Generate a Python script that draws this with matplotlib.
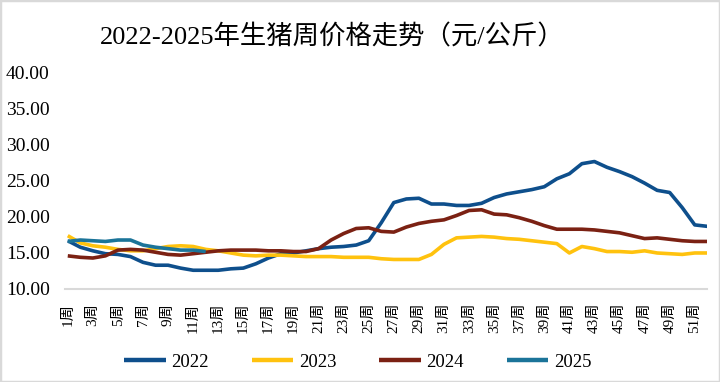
import matplotlib
matplotlib.use("Agg")
import matplotlib.pyplot as plt
from matplotlib.patches import Rectangle
from matplotlib.ticker import FormatStrFormatter

weeks = list(range(1, 53))
tick_weeks = list(range(1, 52, 2))
tick_labels = [f"{w}周" for w in tick_weeks]

y2022 = [16.7, 15.8, 15.3, 14.9, 14.8, 14.5, 13.7, 13.3, 13.3, 12.9, 12.6, 12.6,
         12.6, 12.8, 12.9, 13.5, 14.3, 14.9, 15.0, 15.3, 15.6, 15.8, 15.9, 16.1,
         16.7, 19.2, 22.0, 22.5, 22.6, 21.8, 21.8, 21.6, 21.6, 21.9, 22.7, 23.2,
         23.5, 23.8, 24.2, 25.3, 26.0, 27.4, 27.7, 26.9, 26.3, 25.6, 24.7, 23.7,
         23.4, 21.3, 18.9, 18.7]
y2023 = [17.4, 16.4, 16.0, 15.8, 15.5, 15.3, 15.3, 15.6, 15.9, 16.0, 15.9, 15.5,
         15.3, 15.0, 14.7, 14.6, 14.7, 14.7, 14.6, 14.5, 14.5, 14.5, 14.4, 14.4,
         14.4, 14.2, 14.1, 14.1, 14.1, 14.8, 16.2, 17.1, 17.2, 17.3, 17.2, 17.0,
         16.9, 16.7, 16.5, 16.3, 15.0, 15.9, 15.6, 15.2, 15.2, 15.1, 15.3, 15.0,
         14.9, 14.8, 15.0, 15.0]
y2024 = [14.6, 14.4, 14.3, 14.6, 15.4, 15.5, 15.4, 15.1, 14.8, 14.7, 14.9, 15.1,
         15.3, 15.4, 15.4, 15.4, 15.3, 15.3, 15.2, 15.2, 15.6, 16.8, 17.7, 18.4,
         18.5, 18.0, 17.9, 18.6, 19.1, 19.4, 19.6, 20.2, 20.9, 21.0, 20.4, 20.3,
         19.9, 19.4, 18.8, 18.3, 18.3, 18.3, 18.2, 18.0, 17.8, 17.4, 17.0, 17.1,
         16.9, 16.7, 16.6, 16.6]
y2025 = [16.6, 16.8, 16.7, 16.6, 16.8, 16.8, 16.1, 15.8, 15.6, 15.4, 15.4, 15.2]

series = [("2022", y2022, "#0E4F8C"),
          ("2023", y2023, "#FFC20E"),
          ("2024", y2024, "#7B2113"),
          ("2025", y2025, "#1B7499")]

serif_cjk = ["Liberation Serif", "Noto Sans CJK SC"]

fig = plt.figure(figsize=(7.2, 3.82), dpi=100)
ax = fig.add_axes([0.0903, 0.2435, 0.8917, 0.5655])

for name, vals, col in series:
    ax.plot(weeks[:len(vals)], vals, color=col, lw=2.6, label=name,
            solid_joinstyle="round", solid_capstyle="butt")

ax.set_xlim(0.78, 51.98)
ax.set_ylim(10, 40)
ax.set_yticks([10, 15, 20, 25, 30, 35, 40])
ax.yaxis.set_major_formatter(FormatStrFormatter("%.2f"))
ax.set_xticks(tick_weeks)
ax.set_xticklabels(tick_labels, rotation=90, family=serif_cjk, fontsize=11)
for lab in ax.get_yticklabels():
    lab.set_family(serif_cjk)
    lab.set_fontsize(14)
ax.tick_params(axis="both", length=0)
ax.tick_params(axis="y", pad=11)
ax.tick_params(axis="x", pad=10)
for s in ["left", "right", "top"]:
    ax.spines[s].set_visible(False)
ax.spines["bottom"].set_color("#D9D9D9")
ax.spines["bottom"].set_linewidth(1.5)

fig.text(0.461, 0.903, "2022-2025年生猪周价格走势（元/公斤）", ha="center", va="center",
         fontsize=19, family=serif_cjk)

leg = fig.legend(loc="center", bbox_to_anchor=(0.497, 0.052), ncol=4, frameon=False,
                 prop={"family": serif_cjk, "size": 13.5}, handlelength=2.2,
                 columnspacing=2.3, handletextpad=0.3)
for line in leg.get_lines():
    line.set_linewidth(3.2)

fig.patches.append(Rectangle((0, 0), 1, 1, transform=fig.transFigure, fill=False,
                             edgecolor="#D9D9D9", lw=2.5))

fig.savefig("out.png", dpi=100)
